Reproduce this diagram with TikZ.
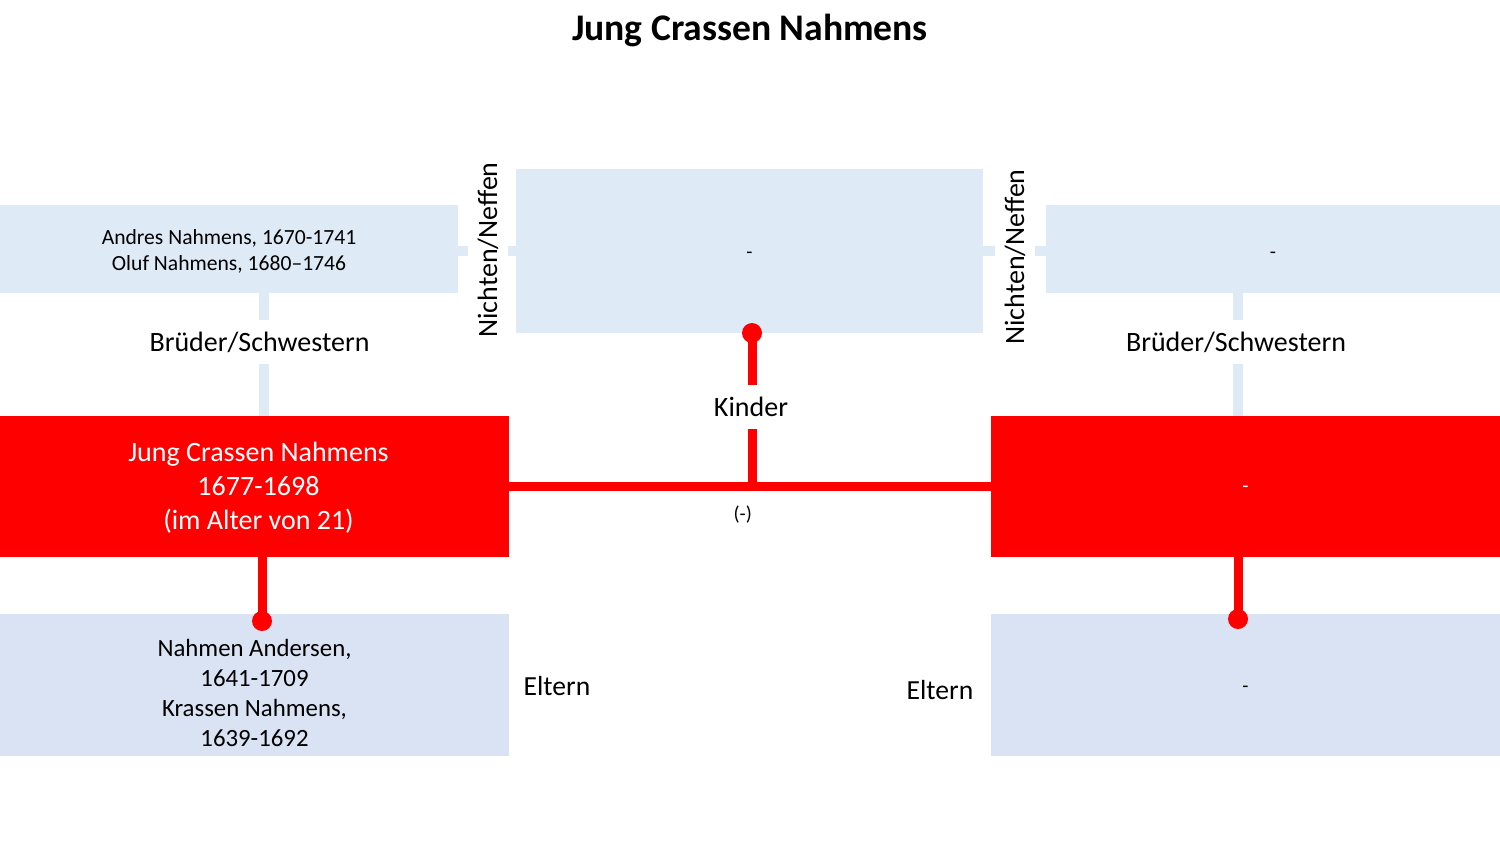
\documentclass[tikz,border=0pt]{standalone}
\usepackage{fontspec}
\setmainfont{Carlito}
\usetikzlibrary{calc}
\definecolor{SibBlue}{HTML}{DEEBF7}
\definecolor{ParBlue}{HTML}{DAE3F3}
\definecolor{FamRed}{HTML}{FF0000}

\begin{document}
\begin{tikzpicture}[x=.5pt, y=-.5pt,
        box/.style={inner sep=0pt, outer sep=0pt, align=center},
        dash label/.style={font=\fontsize{10}{12}\selectfont},
        sibline/.style={line width=5pt, SibBlue},
        famline/.style={line width=4.5pt, FamRed},
        gaplabel/.style={fill=white, inner xsep=1pt, inner ysep=5pt, font=\fontsize{14}{17}\selectfont}]
                \useasboundingbox (0,0) rectangle (1500,843);
                \node[font=\bfseries\fontsize{18.8}{22}\selectfont] (title) at (750,30) {Jung Crassen Nahmens};
                % boxes
                \node[box, fill=SibBlue, minimum width=229pt, minimum height=44pt, label={[align=center, yshift=-1pt, font=\fontsize{10.8}{13}\selectfont]center:Andres Nahmens, 1670-1741\\Oluf Nahmens, 1680--1746}] (lsib) at (229,249) {};
                \node[box, fill=SibBlue, minimum width=233.5pt, minimum height=82pt, dash label, label={[dash label, yshift=-2pt]center:-}] (mid) at (749.5,251) {};
                \node[box, fill=SibBlue, minimum width=227pt, minimum height=44pt, dash label, label={[dash label, yshift=-3pt]center:-}] (rsib) at (1273,249) {};
                \node[box, fill=FamRed, minimum width=254.5pt, minimum height=70.5pt, label={[align=center, text=white, xshift=2pt, yshift=-.5pt, font=\fontsize{14}{17}\selectfont]center:Jung Crassen Nahmens\\1677-1698\\(im Alter von 21)}] (me) at (254.5,486.5) {};
                \node[box, fill=FamRed, minimum width=254.5pt, minimum height=70.5pt, label={[dash label, text=white, yshift=-1.5pt]center:-}] (spouse) at (1245.5,486.5) {};
                \node[box, fill=ParBlue, minimum width=254.5pt, minimum height=71pt, label={[yshift=-4pt, align=center, font=\fontsize{12.4}{15}\selectfont]center:Nahmen Andersen,\\1641-1709\\Krassen Nahmens,\\1639-1692}] (lpar) at (254.5,685) {};
                \node[box, fill=ParBlue, minimum width=254.5pt, minimum height=71pt, label={[dash label, yshift=-2pt]center:-}] (rpar) at (1245.5,685) {};
                % nieces and nephews
                \draw[sibline] ([yshift=-1pt]lsib.east) -- ([yshift=-1pt]lsib.east -| mid.west);
                \draw[sibline] ([yshift=-1pt]rsib.west -| mid.east) -- ([yshift=-1pt]rsib.west);
                \node[gaplabel, rotate=90] (nn1) at (488,250) {Nichten/Neffen};
                \node[gaplabel, rotate=90] (nn2) at (1015,257) {Nichten/Neffen};
                % siblings
                \coordinate (bsl) at (264,342);
                \coordinate (bsr) at (1238,342);
                \draw[sibline] (bsl |- lsib.south) -- (bsl |- me.north);
                \draw[sibline] (bsr |- rsib.south) -- (bsr |- spouse.north);
                \node[gaplabel, inner ysep=6pt] (bs1) at (259.5,342) {Brüder/Schwestern};
                \node[gaplabel, inner ysep=6pt] (bs2) at (1236,342) {Brüder/Schwestern};
                % partner and children
                \draw[famline] (me.east) -- (spouse.west) node[pos=.485, below=4pt, black, dash label] (marr) {(-)};
                \coordinate (kd) at (752,333);
                \draw[famline] (kd) -- (kd |- me.east);
                \fill[FamRed] (kd) circle (5pt);
                \node[gaplabel, inner ysep=6pt] (kinder) at (751,407) {Kinder};
                % parents
                \coordinate (lpd) at (262,621);
                \coordinate (rpd) at (1238,619);
                \draw[famline] (lpd |- me.south) -- (lpd);
                \draw[famline] (rpd |- spouse.south) -- (rpd);
                \fill[FamRed] (lpd) circle (5pt) (rpd) circle (5pt);
                \node[font=\fontsize{13.8}{16}\selectfont] (el1) at (557,686) {Eltern};
                \node[font=\fontsize{13.8}{16}\selectfont] (el2) at (940,690) {Eltern};
\end{tikzpicture}
\end{document}
